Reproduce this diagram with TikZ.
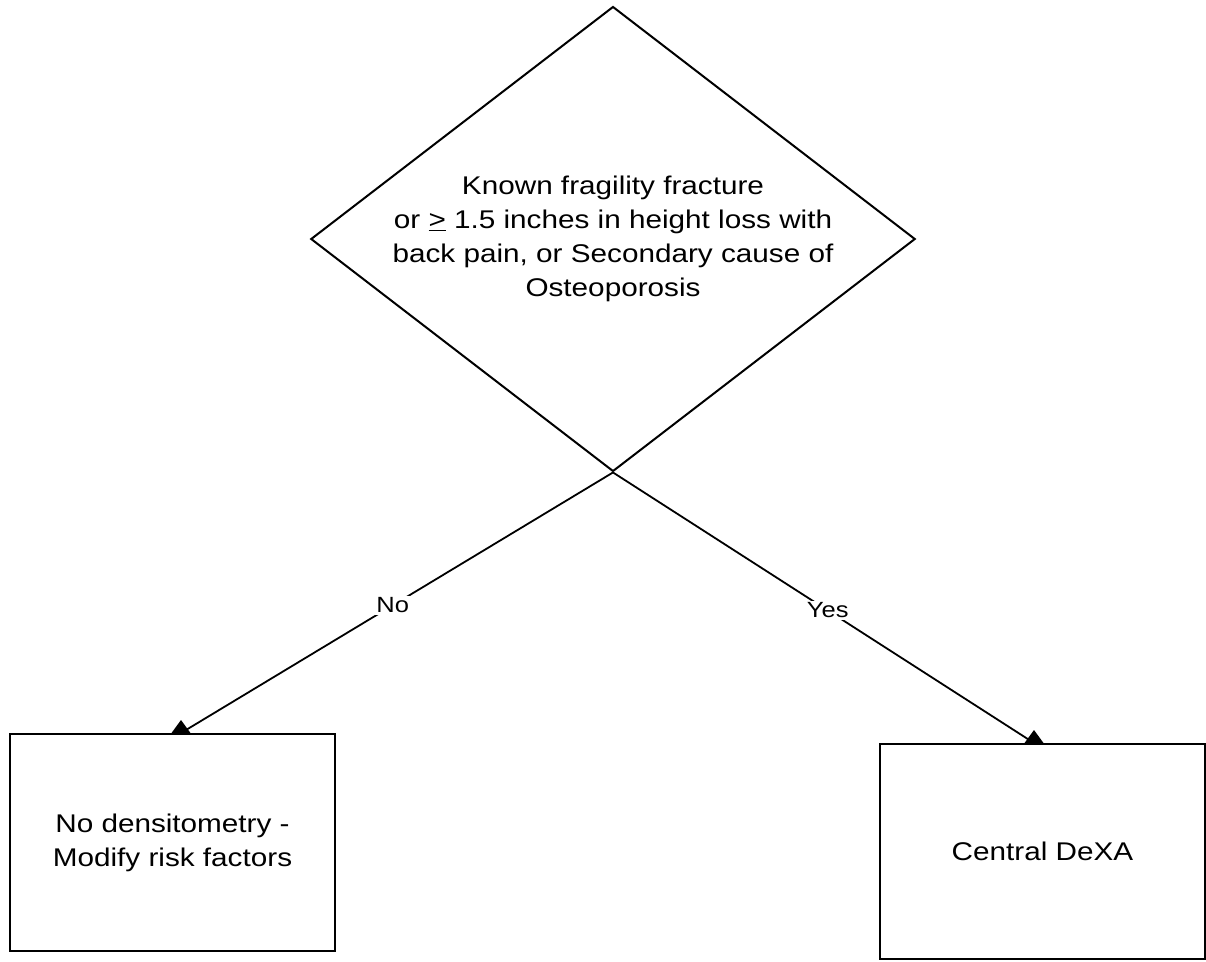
\documentclass[tikz,border=0pt]{standalone}
\usepackage{fontspec}
\setmainfont{Liberation Sans}[FakeStretch=1.16]
\usetikzlibrary{shapes.geometric}
\begin{document}
\begin{tikzpicture}[x=1pt,y=-1pt,
  line width=2pt,
  bigtext/.style={font=\fontsize{25.6}{34}\selectfont, align=center},
  decision/.style={draw, diamond, aspect=1.3, inner sep=0pt, minimum width=598pt, minimum height=460pt, bigtext},
  outcome/.style={draw, rectangle, inner sep=0pt, minimum width=325pt, bigtext},
  edgelabel/.style={font=\fontsize{22}{26}\selectfont, fill=white, inner sep=1.5pt},
  conn/.style={line width=1.8pt}]
\useasboundingbox (0,0) rectangle (1206,961);
\node[decision] (q) at (613,239) {Known fragility fracture\\or \underline{>} 1.5 inches in height loss with\\back pain, or Secondary cause of\\Osteoporosis};
\node[outcome, minimum height=217pt] (no) at (172.5,842.5) {No densitometry -\\Modify risk factors};
\node[outcome, minimum height=215pt] (yes) at (1042.5,851.5) {Central DeXA};
\coordinate (tipL) at ([xshift=8.5pt]no.north);
\coordinate (tipR) at ([xshift=-8.5pt]yes.north);
\draw[conn] (q.south) -- node[edgelabel, pos=0.51] {No} (tipL);
\draw[conn] (q.south) -- node[edgelabel, pos=0.51] {Yes} (tipR);
\fill (tipL) ++(-9.5,0) -- ++(9.5,-13) -- ++(9.5,13) -- cycle;
\fill (tipR) ++(-9.5,0) -- ++(9.5,-13) -- ++(9.5,13) -- cycle;
\end{tikzpicture}
\end{document}
